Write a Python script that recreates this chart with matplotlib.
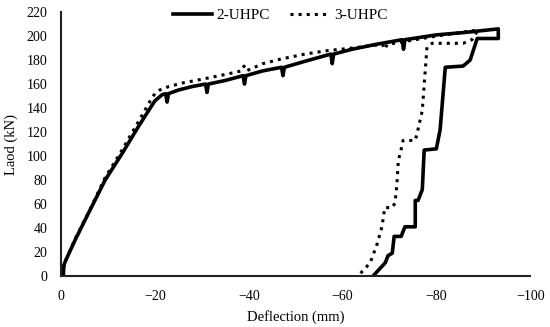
import matplotlib.pyplot as plt

# 2-UHPC (solid): loading branch then unloading branch
uhpc2_x = [0, -0.5, -0.6, -1, -3, -5.8, -9.4, -13, -16.4, -19, -20, -21.5,
           -22.3, -22.6, -22.9, -25, -28, -30.8, -31.1, -31.4, -35, -38.8, -39.1,
           -39.4, -43, -47.0, -47.3, -47.6, -52, -57.5, -57.8, -58.1, -62, -67,
           -72.7, -73.0, -73.3, -80, -86, -93.2,
           -93.2, -88.7, -87.2, -85.7, -81.9, -80.8, -80.0, -77.4, -77.0, -76.1,
           -75.5, -75.5, -73.3, -72.5, -71.0, -70.6, -69.7, -69.1, -66.5]
uhpc2_y = [0, 1, 9, 13, 30, 52, 80, 102, 124, 140, 146, 151,
           152, 145, 152, 155, 158, 160, 153, 160, 163, 167, 160,
           167, 171, 174, 167, 174, 179, 185, 177, 185, 189, 193,
           197, 189, 197, 201, 203, 206,
           198, 198, 180, 175, 174, 122, 106, 105, 72, 63,
           63, 41, 41, 33, 33, 19, 17, 11, 0]

# 3-UHPC (dotted)
uhpc3_x = [0, -1, -3, -6, -9.4, -13, -16.4, -19, -20, -21, -23, -26, -30, -35,
           -38.5, -39, -39.5, -43, -47, -52, -57, -62, -66, -68.5, -69, -69.5,
           -74, -80, -85, -88.9,
           -87.6, -85.7, -79.1, -78.0, -77.0, -75.9, -75.5, -72.9, -72.3,
           -71.9, -71.6, -71.2, -70.6, -69.0, -68.4, -67.4, -65.9, -63.3]
uhpc3_y = [0, 13, 31, 54, 82, 105, 128, 146, 152, 155, 158, 161, 164, 168,
           171, 175, 171, 177, 181, 185, 188, 190, 192, 193, 189, 193,
           196, 200, 203, 205,
           197, 194, 194, 191, 138, 119, 113, 113, 102,
           97, 77, 61, 57, 57, 41, 27, 11, 0]

x_ticks = [0, -20, -40, -60, -80, -100]
y_ticks = list(range(0, 221, 20))

plt.rcParams["font.family"] = ["Liberation Serif", "DejaVu Serif"]
plt.rcParams["font.size"] = 10

fig = plt.figure(figsize=(5.5, 3.27), dpi=100)
ax = fig.add_axes([0.111, 0.156, 0.853, 0.807])

ax.plot(uhpc2_x, uhpc2_y, color="black", linewidth=2.6, label="2-UHPC")
ax.plot(uhpc3_x, uhpc3_y, color="black", linewidth=2.2, linestyle=":",
        label="3-UHPC")

ax.set_xlim(0, -100)
ax.set_ylim(0, 220)
ax.set_xticks(x_ticks)
ax.set_yticks(y_ticks)
ax.tick_params(length=0, pad=10)
ax.set_xlabel("Deflection (mm)", fontsize=10.5, labelpad=5)
ax.set_ylabel("Laod (kN)", fontsize=10.5, labelpad=6)

for side in ["top", "right"]:
    ax.spines[side].set_visible(False)
for side in ["left", "bottom"]:
    ax.spines[side].set_linewidth(1.5)
    ax.spines[side].set_color("#222222")

ax.legend(loc="center", bbox_to_anchor=(0.467, 0.989), ncol=2,
          frameon=False, fontsize=11, handlelength=2.6, handletextpad=0.3,
          columnspacing=1.3, borderpad=0.2)

fig.savefig("out.png", dpi=100)
